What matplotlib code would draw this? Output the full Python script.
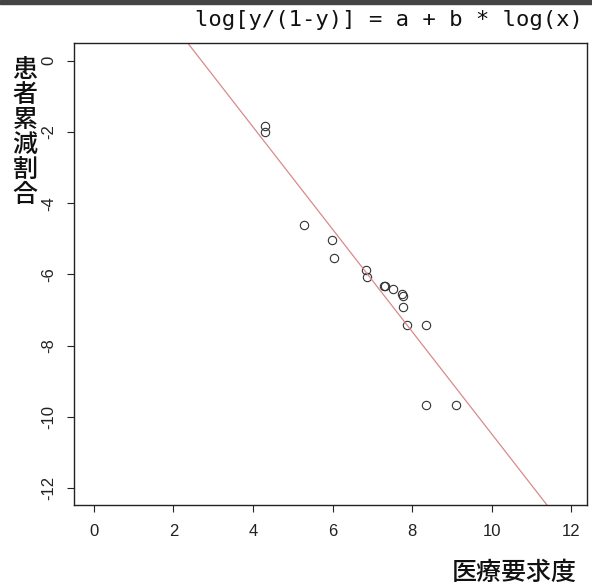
import numpy as np
import matplotlib
matplotlib.use("Agg")
import matplotlib.pyplot as plt

plt.rcParams['axes.unicode_minus'] = False
plt.rcParams['font.family'] = ['Liberation Sans', 'DejaVu Sans']

# log of medical-need level vs logit of cumulative patient decrease
med_need = [4.30, 4.31, 5.28, 5.98, 6.04, 6.83, 6.85, 7.29, 7.32, 7.52,
            7.74, 7.76, 7.77, 7.87, 8.34, 8.34, 9.09]
logit_dec = [-1.83, -1.99, -4.60, -5.04, -5.55, -5.88, -6.07, -6.32, -6.32, -6.41,
             -6.56, -6.62, -6.93, -7.41, -7.41, -9.68, -9.68]

# fitted line  log[y/(1-y)] = a + b*log(x)
a = 3.89
b = -1.438

xticks = [0, 2, 4, 6, 8, 10, 12]
yticks = [0, -2, -4, -6, -8, -10, -12]

W, H = 592, 587
fig = plt.figure(figsize=(W / 100, H / 100), dpi=100)
ax = fig.add_axes([74 / W, 1 - 505 / H, (587 - 74) / W, (505 - 43) / H])

ax.plot(med_need, logit_dec, 'o', ms=6, mfc='none', mec='#333333', mew=0.8)
ax.axline((0, a), slope=b, color='#d9898c', lw=0.9)

ax.set_xlim(-0.5, 12.39)
ax.set_ylim(-12.48, 0.5)
ax.set_xticks(xticks)
ax.set_yticks(yticks)
ax.tick_params(direction='out', length=5, width=0.8, colors='#222222', labelsize=12)
ax.tick_params(axis='x', pad=9)
ax.tick_params(axis='y', pad=8)
for lab in ax.get_yticklabels():
    lab.set_rotation(90)
    lab.set_va('center')
for s in ax.spines.values():
    s.set_color('#222222')
    s.set_linewidth(1.0)

fig.text(583 / W, 1 - 20 / H, 'log[y/(1-y)] = a + b * log(x)',
         family='DejaVu Sans Mono', fontsize=16, ha='right', va='center', color='#111111')

# vertical japanese y label, one char per row
ylab = '患者累減割合'
for i, ch in enumerate(ylab):
    fig.text(25 / W, 1 - (70 + i * 25) / H, ch, family='Noto Sans CJK JP', fontsize=18,
             weight='medium', ha='center', va='center', color='#111111')

fig.text(577 / W, 1 - 573 / H, '医療要求度', family='Noto Sans CJK JP', fontsize=18,
         weight='medium', ha='right', va='center', color='#111111')

# dark scan edge along the top
fig.patches.append(plt.Rectangle((0, 1 - 4 / H), 1, 4 / H, transform=fig.transFigure,
                                 color='#444444', zorder=0))

fig.savefig('out.png', dpi=100)
